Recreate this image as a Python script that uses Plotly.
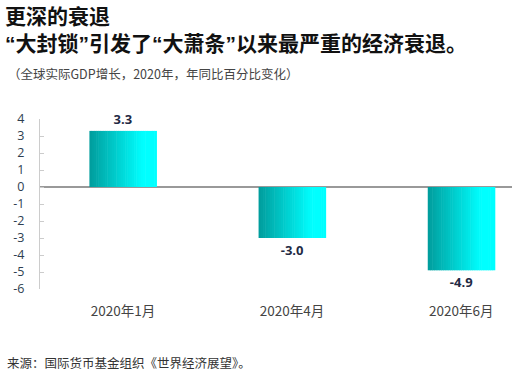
import plotly.graph_objects as go

categories = ["2020年1月", "2020年4月", "2020年6月"]
growth = [3.3, -3.0, -4.9]
labels = ["3.3", "-3.0", "-4.9"]
y_ticks = [4, 3, 2, 1, 0, -1, -2, -3, -4, -5, -6]

FONT = "Open Sans, Noto Sans CJK SC, sans-serif"
CJK = "Noto Sans CJK SC, sans-serif"

W, H = 512, 371
ML, MT, MB, MR = 40, 119, 82, 0

fig = go.Figure()

xs = list(range(len(categories)))
BAR_W = 0.396
N = 30
def lerp(a, b, t):
    return int(round(a + (b - a) * t))
for i in range(N):
    t = (i + 0.5) / N
    tt = min(1.0, t / 0.8)
    g = lerp(0x9C, 0xFF, tt)
    color = f"rgb(0,{g},{g})"
    w = BAR_W / N
    fig.add_trace(go.Bar(
        x=xs, y=growth, width=w * 1.25, offset=-BAR_W / 2 + i * w,
        marker=dict(color=color, line=dict(width=0)),
        hoverinfo="skip", showlegend=False,
    ))

fig.add_trace(go.Bar(
    x=xs, y=growth, width=BAR_W, text=labels, textposition="outside",
    textfont=dict(family=FONT, size=13, color="#1f2a44", weight="bold"),
    marker=dict(color="rgba(0,0,0,0)", line=dict(width=0)),
    cliponaxis=False, showlegend=False,
))

Q = lambda c: f'<span style="font-family:Liberation Sans">{c}</span>'
title = ("<b>更深的衰退</b><br>"
         f"<b>{Q('“')}大封锁{Q('”')}引发了{Q('“')}大萧条{Q('”')}以来最严重的经济衰退。</b>")

def ann(text, px, py, size, color):
    return dict(text=text, x=(px - ML) / (W - ML - MR), y=(H - MB - py) / (H - MT - MB),
                xref="paper", yref="paper", showarrow=False,
                xanchor="left", yanchor="middle", align="left", borderpad=0,
                font=dict(family=CJK, size=size, color=color))

fig.update_layout(
    width=W, height=H,
    margin=dict(l=ML, r=MR, t=MT, b=MB),
    paper_bgcolor="white", plot_bgcolor="white",
    barmode="overlay",
    font=dict(family=FONT),
    xaxis=dict(
        range=[-0.49, 2.3], tickmode="array", tickvals=xs, ticktext=categories,
        showgrid=False, zeroline=False, showline=False, ticks="",
        tickfont=dict(family=CJK, size=13.5, color="#444444"),
        ticklabelstandoff=12, fixedrange=True,
    ),
    yaxis=dict(
        range=[-6, 4], tickmode="array", tickvals=y_ticks,
        ticktext=[str(v) for v in y_ticks],
        showgrid=False, zeroline=True, zerolinecolor="#999999", zerolinewidth=1.5,
        showline=True, linecolor="#cccccc", linewidth=1,
        ticks="inside", ticklen=4, tickcolor="#cccccc",
        tickfont=dict(family=FONT, size=12.5, color="#2e3e50"),
        ticklabelstandoff=12, fixedrange=True,
    ),
    annotations=[
        ann(title, 4, 28.3, 21, "#111111"),
        ann("（全球实际GDP增长，2020年，年同比百分比变化）", 7, 73, 12.5, "#444444"),
        ann("来源：国际货币基金组织《世界经济展望》。", 6, 362, 12.5, "#333333"),
    ],
)

fig.write_html(
    "out.html",
    config={"displayModeBar": False},
    post_script="document.body.style.margin='0';document.body.style.overflow='hidden';",
)
